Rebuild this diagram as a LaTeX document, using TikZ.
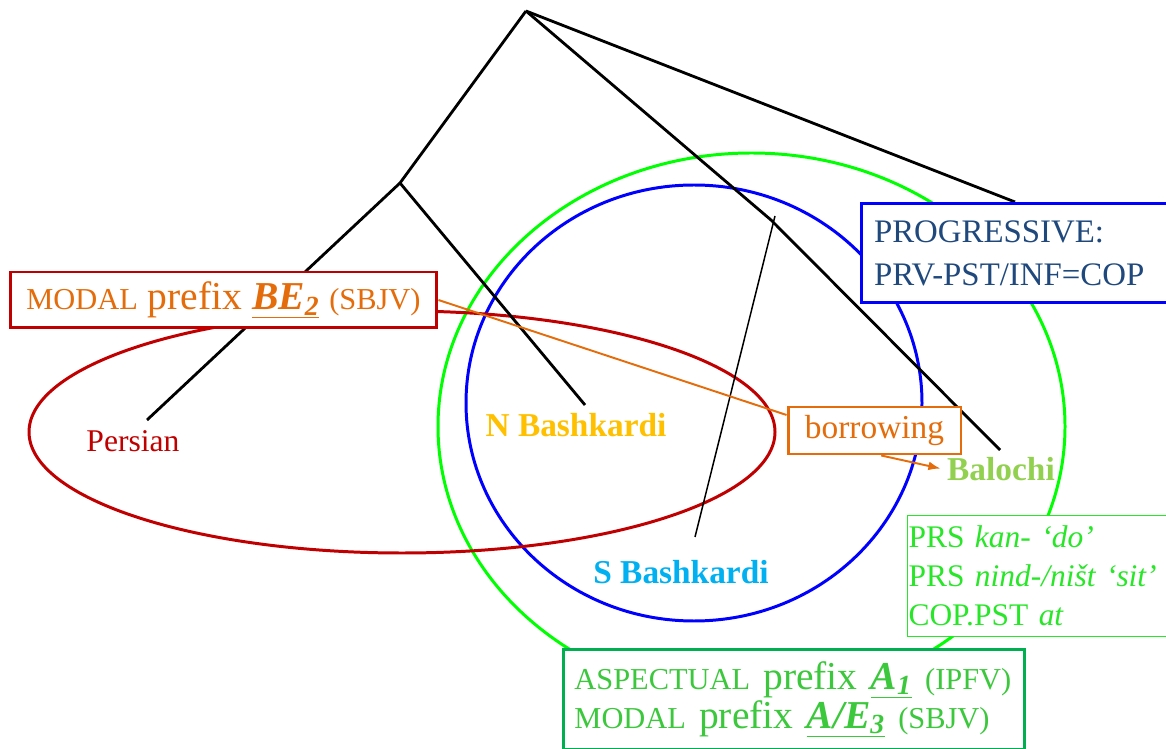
\documentclass[tikz,border=0pt]{standalone}
\usepackage{fontspec}
\setmainfont{Liberation Serif}
\usepackage{tikz}
\usetikzlibrary{arrows.meta}

\definecolor{darkred}{RGB}{192,0,0}
\definecolor{orng}{RGB}{228,108,10}
\definecolor{gold}{RGB}{255,192,0}
\definecolor{skyblue}{RGB}{0,176,240}
\definecolor{leafgreen}{RGB}{146,208,80}
\definecolor{navy}{RGB}{31,73,125}
\definecolor{areagreen}{RGB}{0,255,0}
\definecolor{glossgreen}{RGB}{40,230,40}
\definecolor{boxgreen}{RGB}{0,176,80}
\definecolor{textgreen}{RGB}{60,200,60}

\newcommand{\smcapsz}{\fontsize{17.3}{20}\selectfont}   %small capitals.
\newcommand{\prefsz}{\fontsize{22.5}{26}\selectfont}    %the word prefix.

\begin{document}
\begin{tikzpicture}[x=0.02cm,y=-0.02cm,thick,
	branch/.style={line width=1.6pt},
	leaf/.style={anchor=base,font=\bfseries\fontsize{19}{22}\selectfont},
	box/.style={draw,fill=white,line width=1.7pt,inner sep=0pt}]
				
				% Frame of the slide.
				\useasboundingbox (0,0) rectangle (1166,749);
				\clip (0,0) rectangle (1166,749);
				
				% Define coordinates of the tree.
				\coordinate (root) at (526,11);
				\coordinate (west) at (400,183);      %Persian and N Bashkardi.
				\coordinate (east) at (771,220);      %S Bashkardi and Balochi.
				\coordinate (prog) at (1015,202);
				\coordinate (persian) at (147,420);
				\coordinate (nbash) at (585,405);
				\coordinate (sbtop) at (775,216);
				\coordinate (sbash) at (695,537);
				\coordinate (baloch) at (1000,450);
				
				
				% AREAS
				\draw[line width=1.7pt,color=areagreen] (751.5,426.5) ellipse (313.5 and 273.5);
				\draw[line width=1.7pt,color=blue] (694,403) ellipse (228 and 218);
				\draw[line width=1.7pt,color=darkred] (402,432) ellipse (373 and 121);
				
				% TREE
				\draw[branch] (root) -- (west) -- (persian);
				\draw[branch] (west) -- (nbash);
				\draw[branch] (root) -- (east) -- (baloch);
				\draw[branch] (root) -- (prog);
				\draw[line width=0.85pt] (sbtop) -- (sbash);
				
				% Leaves.
				\node[anchor=base,color=darkred,font=\fontsize{18}{22}\selectfont] (lblpersian) at (133,452) {Persian};
				\node[leaf,color=gold] (lblnbash) at (576,437) {N Bashkardi};
				\node[leaf,color=skyblue] (lblsbash) at (681,583) {S Bashkardi};
				\node[leaf,color=leafgreen] (lblbaloch) at (1001,480) {Balochi};
				
				% Boxes.
				\node[box,draw=darkred,text=orng,minimum width=8.54cm,minimum height=1.12cm,font=\prefsz] (modal) at (223.5,300)
				{{\smcapsz MODAL} prefix \underline{\textbf{\textit{BE}}\textsubscript{\textbf{\textit{2}}}} {\smcapsz (SBJV)}};
				\node[box,draw=orng,text=orng,minimum width=3.46cm,minimum height=0.94cm,font=\fontsize{19}{22}\selectfont] (borrow) at (874.5,430.5) {borrowing};
				\draw[orng,line width=1.1pt] (modal.east) -- (borrow.170);
				\draw[orng,line width=1.1pt,-{Latex[length=7pt,width=5pt]}] (borrow.-75) -- (lblbaloch.west);
				
				\node[box,draw=blue,text=navy,anchor=north west,minimum width=6.6cm,minimum height=1.98cm,
				text width=6.1cm,align=left,inner xsep=0.24cm,font=\fontsize{18.7}{24.4}\selectfont] (progbox) at (860,202)
				{PROGRESSIVE:\\PRV-PST/INF=COP};
				
				\node[box,draw=glossgreen,line width=0.6pt,text=glossgreen,anchor=north west,minimum height=2.42cm,
				text width=5.6cm,align=left,inner xsep=0.02cm,font=\fontsize{17.9}{22.1}\selectfont] (gloss) at (907,515)
				{PRS \textit{kan- `do'}\\PRS \textit{nind-/ništ `sit'}\\COP.PST \textit{at}};
				
				\node[box,draw=boxgreen,text=textgreen,anchor=north west,minimum width=9.22cm,minimum height=2cm,
				text width=8.78cm,align=left,inner xsep=0.22cm,font=\fontsize{22.5}{19.8}\selectfont] (aspect) at (562,648)
				{{\smcapsz ASPECTUAL} prefix \underline{\textbf{\textit{A}}\textsubscript{\textbf{\textit{1}}}} {\smcapsz (IPFV)}\\
				{\smcapsz MODAL} prefix \underline{\textbf{\textit{A/E}}\textsubscript{\textbf{\textit{3}}}} {\smcapsz (SBJV)}};
				
\end{tikzpicture}
\end{document}
